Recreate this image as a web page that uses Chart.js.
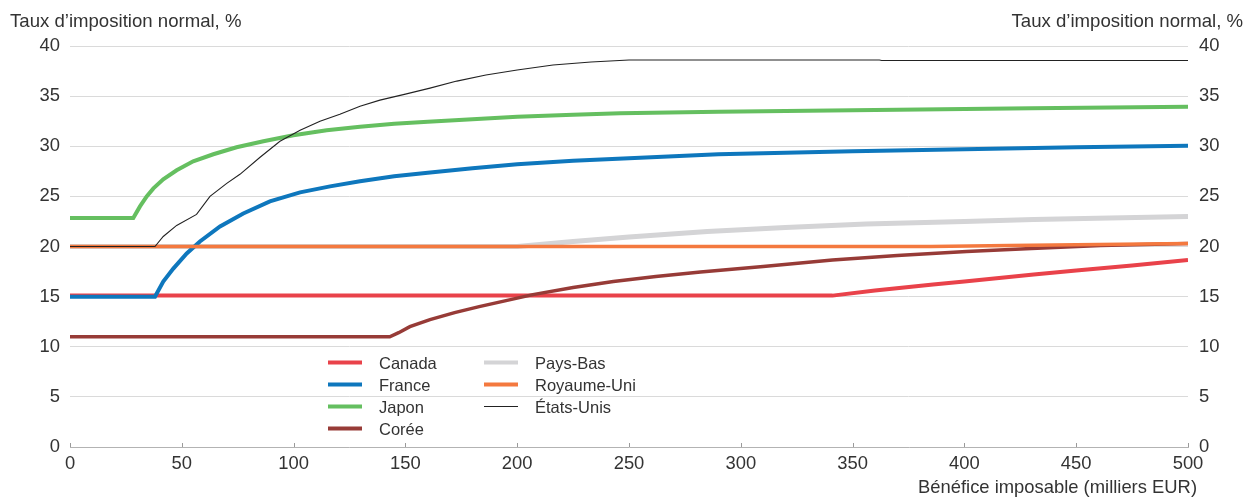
<!doctype html>
<html>
  <head>
    <meta charset="utf-8">
    <title>Taux d'imposition normal</title>
    <style>
      body { margin: 0; background: #fff; }
    </style>
  </head>
  <body>
    <canvas id="rate_chart" width="1247" height="497"></canvas>
  </body>
  <script src="https://cdn.jsdelivr.net/npm/chart.js"></script>
  <script>
    // Bénéfice imposable (milliers EUR) -> taux d'imposition normal (%)
    const canadaX = [0, 341, 360, 386, 400, 431, 450, 475, 500];
    const canadaY = [15.1, 15.1, 15.6, 16.2, 16.5, 17.2, 17.6, 18.1, 18.65];

    const franceX = [0, 38, 41.7, 46.2, 52.2, 58.1, 67.1, 77.5, 89.4, 102.9, 116.3, 129.7, 145, 160, 180, 200, 225, 250, 290, 350, 400, 450, 500];
    const franceY = [15, 15, 16.5, 17.8, 19.3, 20.5, 22.0, 23.3, 24.5, 25.4, 26.0, 26.5, 27.0, 27.35, 27.8, 28.2, 28.55, 28.8, 29.2, 29.5, 29.7, 29.9, 30.05];

    const japonX = [0, 28.3, 31.3, 34.3, 37.3, 41.7, 47.7, 55.1, 64.1, 74.5, 86.5, 99.9, 114.8, 129.7, 145, 160, 180, 200, 225, 246, 290, 350, 430, 500];
    const japonY = [22.85, 22.85, 24.0, 25.0, 25.8, 26.7, 27.6, 28.5, 29.2, 29.9, 30.5, 31.1, 31.6, 31.95, 32.25, 32.45, 32.7, 32.95, 33.15, 33.3, 33.45, 33.6, 33.8, 33.95];

    const coreeX = [0, 143, 147, 152, 161, 172, 183, 195, 207, 225, 243, 262, 282, 310, 341, 370, 401, 430, 461, 500];
    const coreeY = [11, 11, 11.4, 12.0, 12.7, 13.4, 14.0, 14.6, 15.2, 15.9, 16.5, 17.0, 17.45, 18.0, 18.65, 19.1, 19.5, 19.8, 20.1, 20.3];

    const paysBasX = [0, 200, 225, 250, 285, 320, 356, 400, 431, 465, 500];
    const paysBasY = [20, 20, 20.5, 20.95, 21.5, 21.9, 22.25, 22.5, 22.7, 22.85, 23.0];

    const royaumeUniX = [0, 385, 420, 460, 500];
    const royaumeUniY = [20, 20, 20.1, 20.2, 20.3];

    const etatsUnisX = [0, 38, 41.7, 47.7, 56.6, 62.6, 70.1, 76, 85, 93.9, 102.9, 111.8, 120.7, 129.7, 138.6, 150, 161, 173, 186, 200, 216, 233, 250, 362, 363, 500];
    const etatsUnisY = [20, 20, 21.0, 22.1, 23.2, 25.0, 26.3, 27.2, 28.9, 30.5, 31.6, 32.5, 33.2, 34.0, 34.6, 35.2, 35.8, 36.5, 37.1, 37.6, 38.1, 38.4, 38.6, 38.6, 38.55, 38.55];

    const xTicks = [0, 50, 100, 150, 200, 250, 300, 350, 400, 450, 500];
    const yTitle = 'Taux d\u2019imposition normal, %';
    const xTitle = 'Bénéfice imposable (milliers EUR)';

    const FONT = '"Liberation Sans", Arial, Helvetica, sans-serif';
    const TEXT = '#333333';

    function points(xs, ys) {
      return xs.map((x, i) => ({x: x, y: ys[i]}));
    }

    function series(label, xs, ys, color, width, order) {
      return {
        label: label,
        data: points(xs, ys),
        borderColor: color,
        backgroundColor: color,
        borderWidth: width,
        pointRadius: 0,
        tension: 0,
        fill: false,
        order: order,
      };
    }

    const datasets = [
      series('Canada', canadaX, canadaY, '#e9424a', 4, 5),
      series('France', franceX, franceY, '#0e77bd', 4, 2),
      series('Japon', japonX, japonY, '#65bf60', 4, 4),
      series('Corée', coreeX, coreeY, '#973b37', 3.5, 3),
      series('Pays-Bas', paysBasX, paysBasY, '#d4d4d6', 5, 6),
      series('Royaume-Uni', royaumeUniX, royaumeUniY, '#f4793f', 3.5, 1),
      series('États-Unis', etatsUnisX, etatsUnisY, '#222222', 1.1, 0),
    ];

    // axis titles, inward x ticks and the two-column legend
    const decor = {
      id: 'decor',
      afterDraw(chart) {
        const ctx = chart.ctx;
        const area = chart.chartArea;
        const xs = chart.scales.x;
        ctx.save();

        ctx.strokeStyle = '#9a9a9a';
        ctx.lineWidth = 1;
        for (const v of xTicks) {
          const px = Math.round(xs.getPixelForValue(v)) + 0.5;
          ctx.beginPath();
          ctx.moveTo(px, area.bottom);
          ctx.lineTo(px, area.bottom - 4);
          ctx.stroke();
        }

        ctx.fillStyle = TEXT;
        ctx.font = '18.6px ' + FONT;
        ctx.textBaseline = 'alphabetic';
        ctx.textAlign = 'left';
        ctx.fillText(yTitle, 10, 27);
        ctx.textAlign = 'right';
        ctx.fillText(yTitle, 1243, 27);
        ctx.font = '18.4px ' + FONT;
        ctx.fillText(xTitle, 1197, 493);

        // legend: column 1 = Canada..Corée, column 2 = Pays-Bas..États-Unis
        ctx.font = '16.5px ' + FONT;
        ctx.textAlign = 'left';
        const cols = [{x: 328, items: [0, 1, 2, 3]}, {x: 484, items: [4, 5, 6]}];
        cols.forEach(col => {
          col.items.forEach((di, row) => {
            const ds = chart.data.datasets[di];
            const base = 369 + row * 22;
            const ly = base - 6.5;
            ctx.strokeStyle = ds.borderColor;
            ctx.lineWidth = ds.borderWidth < 2 ? 1.2 : 4;
            ctx.beginPath();
            ctx.moveTo(col.x, ly);
            ctx.lineTo(col.x + 34, ly);
            ctx.stroke();
            ctx.fillStyle = TEXT;
            ctx.fillText(ds.label, col.x + 51, base);
          });
        });

        ctx.restore();
      }
    };

    const canvas = document.getElementById('rate_chart');
    const rateChart = new Chart(canvas, {
      type: 'line',
      data: {datasets: datasets},
      options: {
        responsive: false,
        animation: false,
        devicePixelRatio: 1,
        layout: {padding: {top: 46, left: 0, right: 0, bottom: 0}},
        plugins: {
          legend: {display: false},
          tooltip: {enabled: false},
        },
        scales: {
          x: {
            type: 'linear',
            min: 0,
            max: 500,
            afterFit(s) { s.height = 50; },
            afterBuildTicks(s) { s.ticks = xTicks.map(v => ({value: v})); },
            grid: {display: false, drawTicks: false},
            border: {display: true, color: '#b3b3b3', width: 1},
            ticks: {
              autoSkip: false,
              maxRotation: 0,
              padding: 6,
              color: TEXT,
              font: {family: FONT, size: 18.4},
            },
          },
          y: {
            type: 'linear',
            position: 'left',
            min: 0,
            max: 40,
            afterFit(s) { s.width = 70; },
            grid: {
              drawTicks: false,
              color: c => (c.tick && c.tick.value === 0) ? 'rgba(0,0,0,0)' : '#dadada',
              lineWidth: 1,
            },
            border: {display: false},
            ticks: {
              stepSize: 5,
              padding: 10,
              color: TEXT,
              font: {family: FONT, size: 18.4},
            },
          },
          y2: {
            type: 'linear',
            position: 'right',
            min: 0,
            max: 40,
            afterFit(s) { s.width = 59; },
            grid: {display: false, drawTicks: false},
            border: {display: false},
            ticks: {
              stepSize: 5,
              padding: 11,
              color: TEXT,
              font: {family: FONT, size: 18.4},
            },
          },
        },
      },
      plugins: [decor],
    });
  </script>
</html>
